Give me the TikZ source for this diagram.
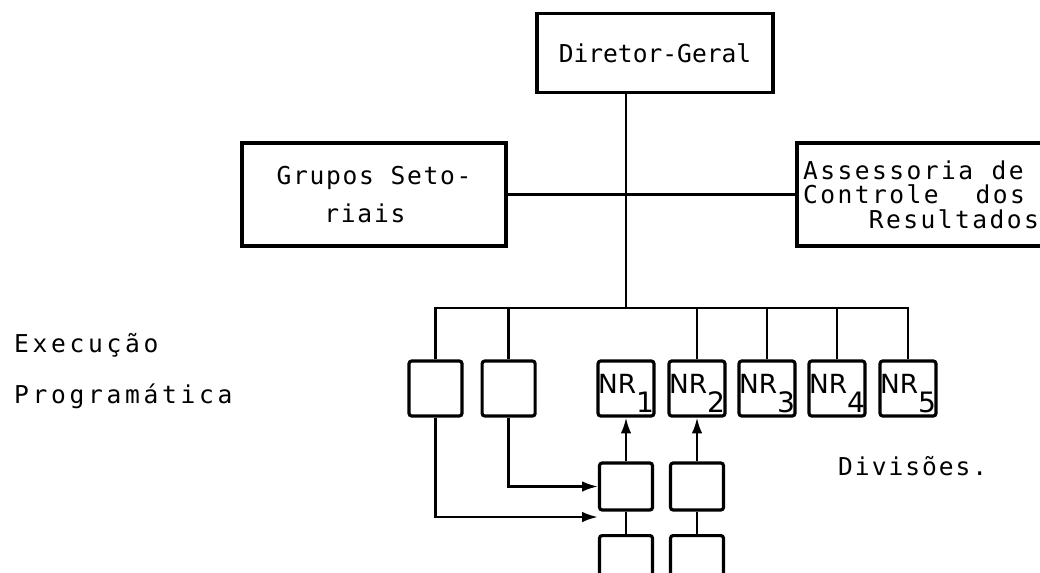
\documentclass[tikz,border=0pt]{standalone}
\usepackage{fontspec}
\setmainfont{DejaVu Sans Mono}
\setsansfont{DejaVu Sans}
\usetikzlibrary{arrows.meta, positioning}

% NR label with its large lowered index
\newcommand{\nrlabel}[1]{\sffamily NR\raisebox{-0.38cm}{\fontsize{16}{16}\selectfont #1}}

\begin{document}
\begin{tikzpicture}[
  x=0.02cm, y=-0.02cm,
  every node/.style={font=\fontsize{14}{19}\selectfont},
  orgbox/.style={rectangle, draw, line width=1.8pt, align=left, inner sep=0pt},
  unit/.style={rectangle, draw, line width=1.8pt, rounded corners=1.5pt,
               minimum width=1.06cm, minimum height=1.1cm, inner sep=0pt,
               text height=0.64cm, text depth=0.46cm,
               font=\fontsize{15}{16}\selectfont},
  div/.style={unit, minimum height=0.94cm, text height=0.5cm, text depth=0.44cm},
  spaced/.style={font=\fontsize{14}{19}\selectfont\addfontfeature{LetterSpace=#1}},
  link/.style={line width=1.4pt},
  arr/.style={-{Latex[length=9pt, width=6pt]}, line width=1.4pt},
]
\useasboundingbox (0,0) rectangle (1040,572);

\node[orgbox, minimum width=4.72cm, minimum height=1.58cm] (dg) at (655,53) {Diretor-Geral};
\node[orgbox, spaced=7, minimum width=5.28cm, minimum height=2.06cm] (gs) at (374,194.5)
  {Grupos Seto-\\[0.1cm]\phantom{Gru}riais};
\node[orgbox, font=\fontsize{14}{14}\selectfont\addfontfeature{LetterSpace=10},
      text width=4.72cm, minimum width=4.96cm, minimum height=2.06cm] (acr) at (921,194.5)
  {Assessoria\hspace{0.75em}de\\Controle\hspace{1.5em}dos\\\hfill Resultados};

% unidades de execucao
\node[unit] (u1) at (435.5,388.5) {};
\node[unit, right=0.34cm of u1] (u2) {};
\node[unit] (nr1) at (626,388.5) {\nrlabel{1}};
\node[unit] (nr2) at (697,388.5) {\nrlabel{2}};
\node[unit] (nr3) at (767,388.5) {\nrlabel{3}};
\node[unit] (nr4) at (837,388.5) {\nrlabel{4}};
\node[unit] (nr5) at (908,388.5) {\nrlabel{5}};

% divisoes
\node[div] (d1) at (nr1 |- 0,486.5) {};
\node[div] (d2) at (nr2 |- 0,486.5) {};
\node[unit, anchor=north] (e1) at (nr1 |- 0,534) {};
\node[unit, anchor=north] (e2) at (nr2 |- 0,534) {};

\node[spaced=15, anchor=west] (exec) at (8,345) {Execução};
\node[spaced=15, anchor=west] (prog) at (8,396) {Programática};
\node[spaced=8, anchor=west] (divs) at (832,466) {Divisões.};

\coordinate (bus) at (nr1.north |- 0,308);
\draw[link] (dg.south -| bus) -- (bus);
\draw[link] (gs.east) -- (acr.west);
\draw[link] (u1.north) |- (bus) -| (nr5.north);
\draw[link] (u2.north) -- (u2.north |- bus);
\draw[link] (nr2.north) -- (nr2.north |- bus);
\draw[link] (nr3.north) -- (nr3.north |- bus);
\draw[link] (nr4.north) -- (nr4.north |- bus);

\draw[arr] (u2.south) |- (d1.west);
\draw[arr] (u1.south) |- ([yshift=0.34cm]e1.north west);
\draw[arr] (d1.north) -- (nr1.south);
\draw[arr] (d2.north) -- (nr2.south);
\draw[link] (d1.south) -- (e1.north);
\draw[link] (d2.south) -- (e2.north);
\end{tikzpicture}
\end{document}
